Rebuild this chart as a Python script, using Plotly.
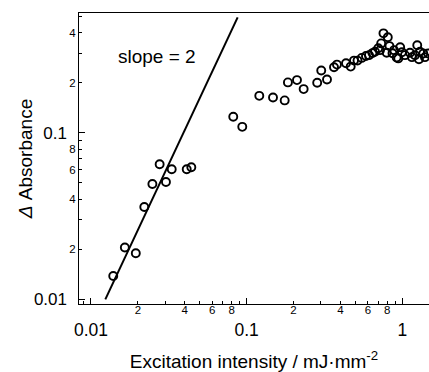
import numpy as np
import plotly.graph_objects as go

# Measured data (excitation intensity in mJ/mm^2, delta absorbance)
intensity = [0.0139, 0.0165, 0.0194, 0.0220, 0.0248, 0.0303, 0.0276, 0.0330, 0.0412, 0.0441,
             0.0820, 0.0937, 0.1205, 0.1476, 0.1754, 0.184, 0.2104, 0.2322, 0.2837, 0.3012,
             0.328, 0.3639, 0.380, 0.4345, 0.4657, 0.489, 0.515, 0.548, 0.5837, 0.6103,
             0.6427, 0.667, 0.700, 0.718, 0.731, 0.756, 0.806, 0.826, 0.793, 0.864,
             0.919, 0.968, 0.941, 1.039, 1.119, 1.205, 1.246, 1.278, 1.297, 1.362,
             1.466, 0.994, 1.152, 1.396, 0.883]
absorbance = [0.0138, 0.0205, 0.0189, 0.0359, 0.0493, 0.0507, 0.0648, 0.0605, 0.0605, 0.0622,
              0.125, 0.1087, 0.1668, 0.163, 0.1567, 0.201, 0.2075, 0.1832, 0.200, 0.237,
              0.2094, 0.2477, 0.257, 0.262, 0.250, 0.2716, 0.2716, 0.282, 0.2897, 0.293,
              0.3014, 0.307, 0.322, 0.314, 0.3447, 0.396, 0.375, 0.332, 0.303, 0.301,
              0.284, 0.327, 0.280, 0.293, 0.303, 0.293, 0.336, 0.277, 0.307, 0.300,
              0.300, 0.305, 0.285, 0.285, 0.314]

# slope = 2 guide line endpoints
line_x = [0.01236, 0.0875]
line_y = [0.0100, 0.494]

# axis ticks
x_minor_vals = [0.009, 0.02, 0.03, 0.04, 0.05, 0.06, 0.07, 0.08, 0.09,
                0.2, 0.3, 0.4, 0.5, 0.6, 0.7, 0.8, 0.9]
x_minor_text = ["", "2", "", "4", "", "6", "", "8", "",
                "2", "", "4", "", "6", "", "8", ""]
x_major_vals = [0.01, 0.1, 1]
x_major_text = ["0.01", "0.1", "1"]
y_minor_vals = [0.02, 0.03, 0.04, 0.05, 0.06, 0.07, 0.08, 0.09, 0.2, 0.3, 0.4, 0.5]
y_minor_text = ["2", "", "4", "", "6", "", "8", "", "2", "", "4", ""]
y_major_vals = [0.01, 0.1]
y_major_text = ["0.01", "0.1"]

FONT = "Liberation Sans, Arial, sans-serif"
xr = [-2.077, 0.171]
yr = [-2.028, -0.28]

fig = go.Figure()
fig.add_trace(go.Scatter(x=line_x, y=line_y, mode="lines",
                         line=dict(color="black", width=2), showlegend=False))
fig.add_trace(go.Scatter(x=intensity, y=absorbance, mode="markers",
                         marker=dict(symbol="circle-open", size=8, color="black",
                                     line=dict(width=1.9, color="black")),
                         showlegend=False))
fig.add_trace(go.Scatter(x=[], y=[], xaxis="x2", yaxis="y2", showlegend=False))

fig.update_layout(
    width=429, height=372,
    margin=dict(l=79, r=0, t=13, b=68),
    paper_bgcolor="white", plot_bgcolor="white",
    font=dict(family=FONT, color="black"),
    xaxis=dict(type="log", range=xr, showgrid=False, zeroline=False,
               showline=True, linecolor="black", linewidth=1.3, mirror=True,
               tickmode="array", tickvals=x_minor_vals, ticktext=x_minor_text,
               ticks="inside", ticklen=3, tickwidth=1, tickcolor="black",
               tickfont=dict(size=11.5, family=FONT), ticklabelstandoff=-5,
               title=dict(text="Excitation intensity / mJ·mm<sup>-2</sup>",
                          font=dict(size=19, family=FONT), standoff=41)),
    xaxis2=dict(type="log", range=xr, overlaying="x", anchor="y", side="bottom",
                showgrid=False, zeroline=False, showline=False,
                tickmode="array", tickvals=x_major_vals, ticktext=x_major_text,
                ticks="inside", ticklen=6, tickwidth=1, tickcolor="black",
                tickfont=dict(size=17.5, family=FONT), ticklabelstandoff=13),
    yaxis=dict(type="log", range=yr, showgrid=False, zeroline=False,
               showline=True, linecolor="black", linewidth=1.3,
               tickmode="array", tickvals=y_minor_vals, ticktext=y_minor_text,
               ticks="inside", ticklen=3, tickwidth=1, tickcolor="black",
               tickfont=dict(size=11.5, family=FONT),
               title=dict(text="<i>Δ</i> Absorbance",
                          font=dict(size=19, family=FONT), standoff=31)),
    yaxis2=dict(type="log", range=yr, overlaying="y", anchor="x", side="left",
                showgrid=False, zeroline=False, showline=False,
                tickmode="array", tickvals=y_major_vals, ticktext=y_major_text,
                ticks="inside", ticklen=6, tickwidth=1, tickcolor="black",
                tickfont=dict(size=17, family=FONT), ticklabelstandoff=11),
    annotations=[dict(x=np.log10(0.0265), y=np.log10(0.287), xref="x", yref="y",
                      text="slope = 2", showarrow=False,
                      font=dict(size=19, family=FONT, color="black"))],
)

fig.write_html("out.html")
